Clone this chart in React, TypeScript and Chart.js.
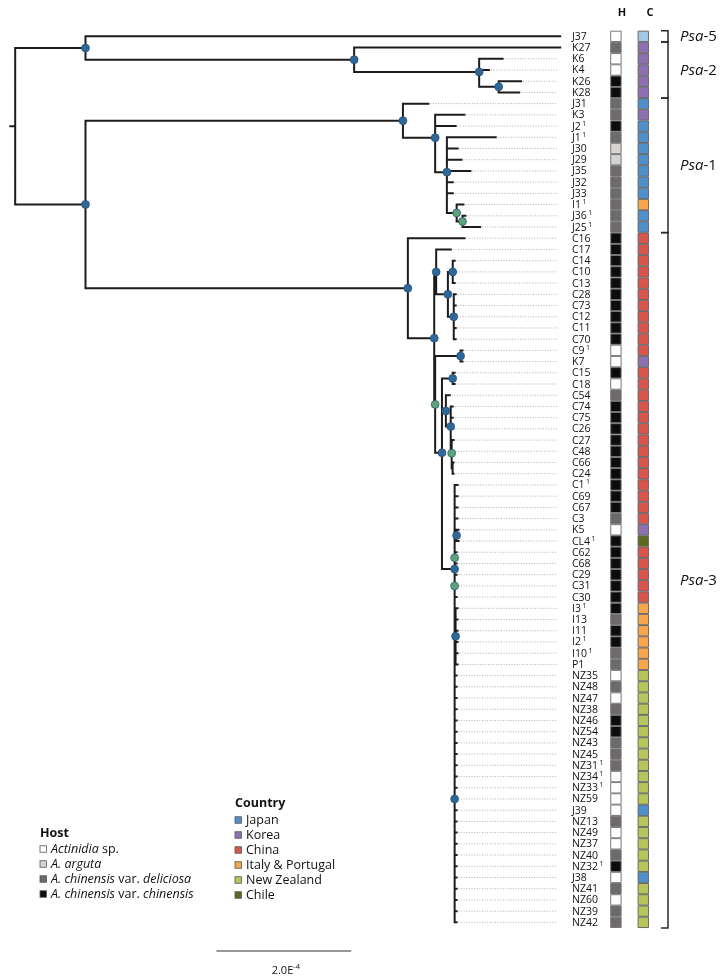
import React, { useEffect, useRef } from 'react';
import { Chart, registerables } from 'chart.js';

Chart.register(...registerables);

// ---------------- data ----------------
// Tree in Newick form, branch lengths in units of 1e-4 substitutions/site.
// Internal node labels: b = blue support dot, g = green support dot.
const PSA_5_2 =
  '(J37:7.043,(K27:3.058,(K6:0.348,K4:0.145,(K26:0.333,K28:0.304)b:0.290)b:1.855)b:3.986)b:1.043';
const PSA_1 =
  '(J31:0.377,(K3:0.435,J2:0.304,(J1:0.725,J30:0.159,J29:0.217,J35:0.348,J32:0.087,J33:0.087,(I1:0.101,(J36:0.043,J25:0.261)g:0.087)g:0.145)b:0.174)b:0.478)b:4.710';
const PSA_3_NZ =
  '(NZ35:0.029,NZ48:0.029,NZ47:0.029,NZ38:0.029,NZ46:0.029,NZ54:0.029,NZ43:0.029,NZ45:0.029,NZ31:0.029,NZ34:0.029,NZ33:0.029,NZ59:0.029,J39:0.029,NZ13:0.029,NZ49:0.029,NZ37:0.029,NZ40:0.029,NZ32:0.029,J38:0.029,NZ41:0.029,NZ60:0.029,NZ39:0.029,NZ42:0.029)b:0';
const PSA_3_CORE =
  `(C1:0.043,C69:0.043,C67:0.043,C3:0.043,(K5:0.029,CL4:0.029)b:0.029,(C62:0.029,C68:0.029)g:0,(C29:0.029,C31:0.029,C30:0.029)g:0,(I3:0.029,I13:0.029,I11:0.029,I2:0.029,I10:0.029,P1:0.029)b:0.014,${PSA_3_NZ})b:0.188`;
const PSA_3 =
  `(C16:0.841,((C17:0.217,((C14:0.029,C10:0.029,C13:0.029)b:0.072,(C28:0.029,C73:0.029,C12:0.029,C11:0.029,C70:0.029)b:0.087)b:0.174)b:0.029,((C9:0.029,K7:0.029)b:0.377,((C15:0.029,C18:0.029)b:0.159,(C54:0.058,(C74:0.029,C75:0.029,C26:0.029,(C27:0.029,C48:0.029,(C66:0.014,C24:0.014):0.014)g:0.014)b:0.072)b:0.058,${PSA_3_CORE})b:0.101)g:0.014)b:0.391)b:4.783`;
const TREE_NEWICK = `(${PSA_5_2},(${PSA_1},${PSA_3})b:1.043):0.072;`;

const LEAF_NAMES = [
  'J37', 'K27', 'K6', 'K4', 'K26', 'K28', 'J31', 'K3', 'J2', 'J1', 'J30', 'J29', 'J35', 'J32', 'J33', 'I1', 'J36', 'J25',
  'C16', 'C17', 'C14', 'C10', 'C13', 'C28', 'C73', 'C12', 'C11', 'C70', 'C9', 'K7', 'C15', 'C18', 'C54', 'C74', 'C75',
  'C26', 'C27', 'C48', 'C66', 'C24', 'C1', 'C69', 'C67', 'C3', 'K5', 'CL4', 'C62', 'C68', 'C29', 'C31', 'C30',
  'I3', 'I13', 'I11', 'I2', 'I10', 'P1',
  'NZ35', 'NZ48', 'NZ47', 'NZ38', 'NZ46', 'NZ54', 'NZ43', 'NZ45', 'NZ31', 'NZ34', 'NZ33', 'NZ59', 'J39', 'NZ13',
  'NZ49', 'NZ37', 'NZ40', 'NZ32', 'J38', 'NZ41', 'NZ60', 'NZ39', 'NZ42',
];
// W = Actinidia sp., A = A. arguta, D = var. deliciosa, C = var. chinensis
const HOSTS = [
  'W', 'D', 'W', 'W', 'C', 'C', 'D', 'D', 'C', 'D', 'A', 'A', 'D', 'D', 'D', 'D', 'D', 'D',
  'C', 'C', 'C', 'C', 'C', 'C', 'C', 'C', 'C', 'C', 'W', 'W', 'C', 'W', 'D', 'C', 'C',
  'C', 'C', 'C', 'C', 'C', 'C', 'C', 'C', 'D', 'W', 'C', 'C', 'C', 'C', 'C', 'C',
  'C', 'D', 'C', 'C', 'D', 'D',
  'W', 'D', 'W', 'D', 'C', 'C', 'D', 'D', 'D', 'W', 'W', 'W', 'W', 'D',
  'W', 'W', 'D', 'C', 'W', 'D', 'W', 'D', 'D',
];
const COUNTRIES = [
  'JPL', 'KR', 'KR', 'KR', 'KR', 'KR', 'JP', 'KR', 'JP', 'JP', 'JP', 'JP', 'JP', 'JP', 'JP', 'IT', 'JP', 'JP',
  'CN', 'CN', 'CN', 'CN', 'CN', 'CN', 'CN', 'CN', 'CN', 'CN', 'CN', 'KR', 'CN', 'CN', 'CN', 'CN', 'CN',
  'CN', 'CN', 'CN', 'CN', 'CN', 'CN', 'CN', 'CN', 'CN', 'KR', 'CL', 'CN', 'CN', 'CN', 'CN', 'CN',
  'IT', 'IT', 'IT', 'IT', 'IT', 'IT',
  'NZ', 'NZ', 'NZ', 'NZ', 'NZ', 'NZ', 'NZ', 'NZ', 'NZ', 'NZ', 'NZ', 'NZ', 'JP', 'NZ',
  'NZ', 'NZ', 'NZ', 'NZ', 'JP', 'NZ', 'NZ', 'NZ', 'NZ',
];
const SUPERSCRIPT_LEAVES = ['J2', 'J1', 'I1', 'J36', 'J25', 'C9', 'C1', 'CL4', 'I3', 'I2', 'I10', 'NZ31', 'NZ34', 'NZ33', 'NZ32'];
const CLADES = [
  { name: '5', first: 'J37', last: 'J37' },
  { name: '2', first: 'K27', last: 'K28' },
  { name: '1', first: 'J31', last: 'J25' },
  { name: '3', first: 'C16', last: 'NZ42' },
];
const HOST_LEGEND = [
  { code: 'W', runs: [['Actinidia', 'i'], [' sp.', 'n']] },
  { code: 'A', runs: [['A. arguta', 'i']] },
  { code: 'D', runs: [['A. chinensis', 'i'], [' var. ', 'n'], ['deliciosa', 'i']] },
  { code: 'C', runs: [['A. chinensis', 'i'], [' var. ', 'n'], ['chinensis', 'i']] },
];
const COUNTRY_LEGEND = [
  { code: 'JP', label: 'Japan' },
  { code: 'KR', label: 'Korea' },
  { code: 'CN', label: 'China' },
  { code: 'IT', label: 'Italy & Portugal' },
  { code: 'NZ', label: 'New Zealand' },
  { code: 'CL', label: 'Chile' },
];
const SCALE_BAR_LENGTH = 2.0; // 2.0E-4

// ---------------- styles / layout ----------------
const W = 720;
const H = 977;
const FONT = "'Open Sans', 'Noto Sans', sans-serif";
const X0_PX = 7;
const UNIT_PX = 69;
const ROW0_PX = 28.5;
const ROW_PX = 11.41;
const LEADER_END_PX = 562;
const LABEL_PX = 572;
const LABEL_SIZE = 10.5;
const HOST_PX = 622;
const COUNTRY_PX = 650;
const SQUARE_PX = 10.4;
const BRACKET_PX = 668;
const CLADE_LABEL_PX = 680;
const SCALE_START_PX = 213;
const SCALE_Y_PX = 959;

const HOST_COLORS: Record<string, string> = { W: '#ffffff', A: '#d7d3d1', D: '#6e6a6a', C: '#0c0c0c' };
const COUNTRY_COLORS: Record<string, string> = {
  JP: '#4f8fca', JPL: '#a3c6e6', KR: '#8e70b0', CN: '#d9554b', IT: '#f8a64b', NZ: '#b8c55b', CL: '#5b6a1f',
};
const DOT_COLORS: Record<string, string> = { b: '#2f6798', g: '#5ca27a' };
const BRANCH_COLOR = '#1c1c1c';
const TEXT_COLOR = '#111111';

// ---------------- tree helpers ----------------
type TNode = { name: string; length: number; children: TNode[]; x: number; y: number };

function parseNewick(src: string): TNode {
  const s = src.replace(/\s+/g, '');
  let i = 0;
  const node = (): TNode => {
    const n: TNode = { name: '', length: 0, children: [], x: 0, y: 0 };
    if (s[i] === '(') {
      i++;
      n.children.push(node());
      while (s[i] === ',') {
        i++;
        n.children.push(node());
      }
      i++; // ')'
    }
    let name = '';
    while (i < s.length && !',():;'.includes(s[i])) name += s[i++];
    n.name = name;
    if (s[i] === ':') {
      i++;
      let num = '';
      while (i < s.length && !',();'.includes(s[i])) num += s[i++];
      n.length = parseFloat(num);
    }
    return n;
  };
  return node();
}

function layoutTree(root: TNode) {
  const leaves: TNode[] = [];
  const internals: TNode[] = [];
  const walk = (n: TNode, px: number) => {
    n.x = px + (n === root ? 0 : n.length);
    if (!n.children.length) {
      n.y = leaves.length;
      leaves.push(n);
    } else {
      n.children.forEach((c) => walk(c, n.x));
      n.y = n.children.reduce((a, c) => a + c.y, 0) / n.children.length;
      internals.push(n);
    }
  };
  walk(root, 0);
  return { leaves, internals };
}

const xu = (px: number) => (px - X0_PX) / UNIT_PX;
const yv = (px: number) => (px - ROW0_PX) / ROW_PX;

function fontFor(style: string, size: number) {
  if (style === 'i') return `italic ${size}px ${FONT}`;
  if (style === 'b') return `bold ${size}px ${FONT}`;
  return `${size}px ${FONT}`;
}

function drawRuns(ctx: CanvasRenderingContext2D, x: number, y: number, runs: string[][], size: number, align = 'left') {
  const widths = runs.map(([t, st]) => {
    ctx.font = fontFor(st, size);
    return ctx.measureText(t).width;
  });
  const total = widths.reduce((a, b) => a + b, 0);
  let cx = align === 'center' ? x - total / 2 : x;
  ctx.textAlign = 'left';
  runs.forEach(([t, st], k) => {
    ctx.font = fontFor(st, size);
    ctx.fillText(t, cx, y);
    cx += widths[k];
  });
}

export default function App() {
  const ref = useRef<HTMLCanvasElement>(null);

  useEffect(() => {
    const root = parseNewick(TREE_NEWICK);
    const { leaves, internals } = layoutTree(root);

    // branches
    const branchPts: any[] = [];
    const seg = (x1: number, y1: number, x2: number, y2: number) => {
      branchPts.push({ x: x1, y: y1 }, { x: x2, y: y2 }, { x: null, y: null });
    };
    const visit = (n: TNode, parentX: number) => {
      seg(parentX, n.y, n.x, n.y);
      if (n.children.length) {
        const ys = n.children.map((c) => c.y);
        seg(n.x, Math.min(...ys), n.x, Math.max(...ys));
        n.children.forEach((c) => visit(c, n.x));
      }
    };
    visit(root, root.x - root.length);

    // leader lines
    const leaderPts: any[] = [];
    const leaderEnd = xu(LEADER_END_PX);
    leaves.forEach((l) => {
      const start = l.x + 2 / UNIT_PX;
      if (start < leaderEnd - 4 / UNIT_PX) {
        leaderPts.push({ x: start, y: l.y }, { x: leaderEnd, y: l.y }, { x: null, y: null });
      }
    });

    // support dots
    const dotNodes = internals.filter((n) => n.name === 'b' || n.name === 'g');
    const dotPts = dotNodes.map((n) => ({ x: n.x, y: n.y }));
    const dotColors = dotNodes.map((n) => DOT_COLORS[n.name]);

    // host / country cells
    const order = leaves.map((l) => LEAF_NAMES.indexOf(l.name));
    const hostPts = leaves.map((l) => ({ x: xu(HOST_PX), y: l.y }));
    const hostColors = order.map((k) => HOST_COLORS[HOSTS[k]]);
    const countryPts = leaves.map((l) => ({ x: xu(COUNTRY_PX), y: l.y }));
    const countryColors = order.map((k) => COUNTRY_COLORS[COUNTRIES[k]]);

    // scale bar
    const sx = xu(SCALE_START_PX);
    const scalePts = [
      { x: sx, y: yv(SCALE_Y_PX) },
      { x: sx + SCALE_BAR_LENGTH, y: yv(SCALE_Y_PX) },
    ];

    const rowOf = (name: string) => leaves.find((l) => l.name === name)!.y;

    const textPlugin = {
      id: 'treeText',
      afterDatasetsDraw(chart: any) {
        const ctx: CanvasRenderingContext2D = chart.ctx;
        const xs = chart.scales.x;
        const ysc = chart.scales.y;
        ctx.save();
        ctx.fillStyle = TEXT_COLOR;
        ctx.textBaseline = 'middle';

        // leaf labels
        leaves.forEach((l) => {
          const y = ysc.getPixelForValue(l.y) + 0.5;
          ctx.font = fontFor('n', LABEL_SIZE);
          ctx.textAlign = 'left';
          ctx.fillText(l.name, LABEL_PX, y);
          if (SUPERSCRIPT_LEAVES.includes(l.name)) {
            const w = ctx.measureText(l.name).width;
            ctx.font = fontFor('n', 7);
            ctx.fillText('1', LABEL_PX + w + 1.5, y - 3);
          }
        });

        // column headers
        ctx.textAlign = 'center';
        ctx.font = fontFor('b', 11);
        ctx.fillText('H', HOST_PX, 13);
        ctx.fillText('C', COUNTRY_PX, 13);

        // clade brackets
        ctx.strokeStyle = '#2a2a2a';
        ctx.lineWidth = 1.5;
        CLADES.forEach((c) => {
          const top = ysc.getPixelForValue(rowOf(c.first)) - ROW_PX / 2;
          const bottom = ysc.getPixelForValue(rowOf(c.last)) + ROW_PX / 2;
          ctx.beginPath();
          ctx.moveTo(BRACKET_PX - 7, top);
          ctx.lineTo(BRACKET_PX, top);
          ctx.lineTo(BRACKET_PX, bottom);
          ctx.lineTo(BRACKET_PX - 7, bottom);
          ctx.stroke();
          drawRuns(ctx, CLADE_LABEL_PX, (top + bottom) / 2 + 0.5, [['Psa', 'i'], ['-' + c.name, 'n']], 15);
        });

        // scale bar label
        const mid = (xs.getPixelForValue(scalePts[0].x) + xs.getPixelForValue(scalePts[1].x)) / 2;
        ctx.font = fontFor('n', 11);
        const wMain = ctx.measureText('2.0E').width;
        ctx.font = fontFor('n', 7.5);
        const wSup = ctx.measureText('-4').width;
        const startX = mid - (wMain + wSup) / 2 + 2;
        ctx.textAlign = 'left';
        ctx.font = fontFor('n', 11);
        ctx.fillText('2.0E', startX, SCALE_Y_PX + 12);
        ctx.font = fontFor('n', 7.5);
        ctx.fillText('-4', startX + wMain, SCALE_Y_PX + 8);

        // legends
        const sq = 6.5;
        const legendSquare = (x: number, y: number, color: string) => {
          ctx.fillStyle = color;
          ctx.fillRect(x, y - sq / 2, sq, sq);
          ctx.strokeStyle = '#555';
          ctx.lineWidth = 0.8;
          ctx.strokeRect(x, y - sq / 2, sq, sq);
          ctx.fillStyle = TEXT_COLOR;
        };
        drawRuns(ctx, 40, 833, [['Host', 'b']], 12.5);
        HOST_LEGEND.forEach((h, k) => {
          const y = 849 + k * 15;
          legendSquare(40, y, HOST_COLORS[h.code]);
          drawRuns(ctx, 51, y + 0.5, h.runs, 12.5);
        });
        drawRuns(ctx, 235, 803, [['Country', 'b']], 12.5);
        COUNTRY_LEGEND.forEach((c, k) => {
          const y = 820 + k * 15;
          legendSquare(235, y, COUNTRY_COLORS[c.code]);
          drawRuns(ctx, 246, y + 0.5, [[c.label, 'n']], 12.5);
        });
        ctx.restore();
      },
    };

    const lineDs = (data: any[], color: string, width: number, extra: any = {}) => ({
      data,
      showLine: true,
      borderColor: color,
      borderWidth: width,
      pointRadius: 0,
      pointHoverRadius: 0,
      spanGaps: false,
      fill: false,
      tension: 0,
      ...extra,
    });

    const chart = new Chart(ref.current as HTMLCanvasElement, {
      type: 'scatter',
      data: {
        datasets: [
          { ...lineDs(leaderPts, '#b0b0b0', 1, { borderDash: [1, 1.6] }), order: 6 },
          { ...lineDs(branchPts, BRANCH_COLOR, 2, { borderCapStyle: 'square', borderJoinStyle: 'miter' }), order: 5 },
          {
            data: dotPts,
            pointRadius: 4,
            pointBackgroundColor: dotColors,
            pointBorderColor: '#24496b',
            pointBorderWidth: 0.6,
            showLine: false,
            order: 1,
          },
          {
            data: hostPts,
            pointStyle: 'rect',
            pointRadius: SQUARE_PX / Math.SQRT2,
            pointBackgroundColor: hostColors,
            pointBorderColor: '#777',
            pointBorderWidth: 1,
            showLine: false,
            order: 2,
          },
          {
            data: countryPts,
            pointStyle: 'rect',
            pointRadius: SQUARE_PX / Math.SQRT2,
            pointBackgroundColor: countryColors,
            pointBorderColor: '#6a6a6a',
            pointBorderWidth: 1,
            showLine: false,
            order: 3,
          },
          { ...lineDs(scalePts, '#7a7676', 1.5), order: 4 },
        ] as any,
      },
      options: {
        animation: false,
        responsive: false,
        devicePixelRatio: 1,
        events: [],
        layout: { padding: 0 },
        plugins: { legend: { display: false }, tooltip: { enabled: false } },
        scales: {
          x: { type: 'linear', display: false, min: xu(0), max: xu(W) },
          y: { type: 'linear', display: false, reverse: true, min: yv(0), max: yv(H) },
        },
      } as any,
      plugins: [textPlugin],
    });
    return () => chart.destroy();
  }, []);

  return (
    <div style={{ position: 'absolute', left: 0, top: 0, width: W, height: H, background: '#fff' }}>
      <canvas ref={ref} width={W} height={H} style={{ display: 'block' }} />
    </div>
  );
}
